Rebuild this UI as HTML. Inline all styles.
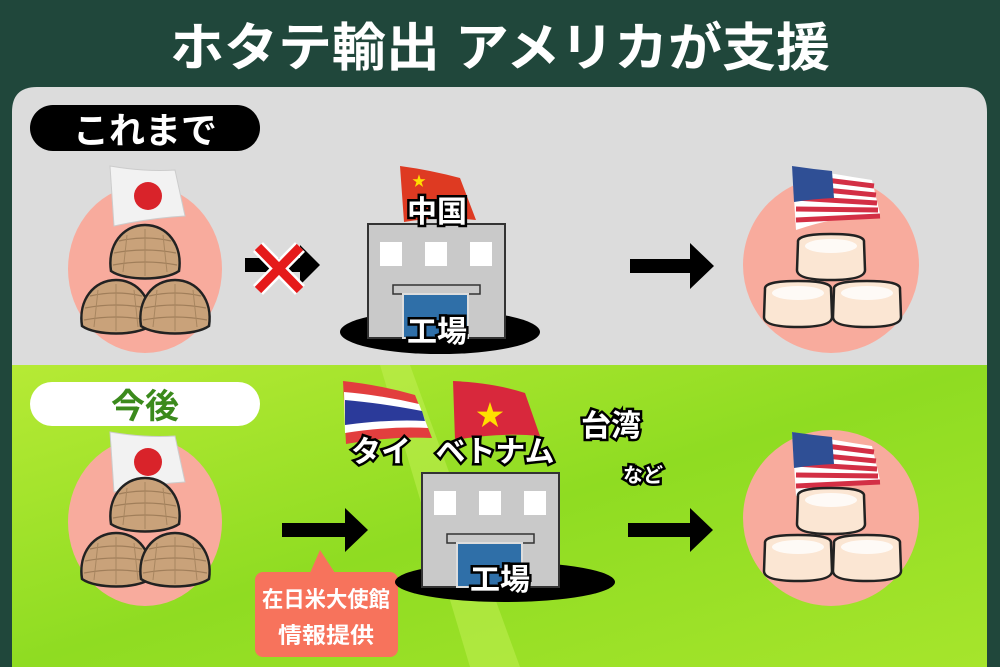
<!DOCTYPE html>
<html><head><meta charset="utf-8"><style>
html,body{margin:0;padding:0;background:#20473b;}
svg{display:block;font-family:"Liberation Sans","Noto Sans CJK JP",sans-serif;font-weight:bold;}
</style></head><body>
<svg width="1000" height="667" viewBox="0 0 1000 667" xmlns="http://www.w3.org/2000/svg">
<defs>
<linearGradient id="gr" x1="0" y1="0" x2="1" y2="1">
<stop offset="0" stop-color="#b6ea35"/><stop offset="0.5" stop-color="#8fdc22"/><stop offset="1" stop-color="#a6e52c"/></linearGradient>
<g id="clam">
<path d="M-34,18 C-38,-8 -22,-28 0,-28 C22,-28 38,-8 34,18 C20,28 -20,28 -34,18Z" fill="#c9a27a" stroke="#222" stroke-width="2.5"/>
<path d="M-26,-12 Q0,-18 26,-12 M-31,0 Q0,-6 31,0 M-32,12 Q0,6 32,12" stroke="#a07e5a" stroke-width="1.2" fill="none"/>
<path d="M-18,-18 L-22,19 M0,-24 L0,23 M18,-18 L22,19" stroke="#a88660" stroke-width="1" fill="none"/>
</g>
<g id="scal">
<path d="M-33,-14 Q-34,-22 0,-22 Q34,-22 33,-14 L34,14 Q34,24 0,24 Q-34,24 -34,14Z" fill="#fbe6d3" stroke="#222" stroke-width="2.5"/>
<ellipse cx="0" cy="-10" rx="26" ry="7" fill="#fff" opacity="0.8"/>
</g>
<g id="jp">
<path d="M0,0 Q35,6 65,4 L75,50 Q40,52 4,60Z" fill="#f2f2f2" stroke="#ccc"/>
<circle cx="38" cy="30" r="14" fill="#d9232a"/>
</g>
<g id="us">
<path d="M0,0 Q40,8 80,14 L88,48 Q45,50 4,64Z" fill="#fff"/>
<path d="M2,10 L82,20 M3,21 L84,29 M3,32 L85,37 M4,43 L86,44 M4,54 L88,50" stroke="#d32f45" stroke-width="5"/>
<path d="M0,0 Q20,3 40,5 L42,32 Q20,33 2,36Z" fill="#2f4f95"/>
</g>
<g id="bld">
<rect x="0" y="0" width="137" height="114" fill="#c9c9c9" stroke="#333" stroke-width="2"/>
<rect x="12" y="18" width="22" height="24" fill="#fff"/><rect x="57" y="18" width="22" height="24" fill="#fff"/><rect x="102" y="18" width="22" height="24" fill="#fff"/>
<rect x="25" y="61" width="87" height="9" fill="#c9c9c9" stroke="#333" stroke-width="1.5"/>
<rect x="35" y="70" width="65" height="44" fill="#2f6fa8" stroke="#ddd" stroke-width="2"/>
</g>
</defs>
<text x="500" y="66" font-size="52" fill="#fff" text-anchor="middle" textLength="660" lengthAdjust="spacingAndGlyphs">ホタテ輸出 アメリカが支援</text>
<path d="M12,112 Q12,87 37,87 L962,87 Q987,87 987,112 L987,667 L12,667Z" fill="#dcdcdc"/>
<rect x="12" y="365" width="975" height="302" fill="url(#gr)"/>
<path d="M380,365 L470,667 L520,667 L410,365Z" fill="#c4ef56" opacity="0.5"/>

<rect x="30" y="105" width="230" height="46" rx="23" fill="#000"/>
<text x="145" y="143" font-size="36" fill="#fff" text-anchor="middle">これまで</text>
<ellipse cx="145" cy="269" rx="77" ry="84" fill="#f8ab9d"/>
<use href="#jp" x="110" y="166"/>
<use href="#clam" x="145" y="253"/>
<use href="#clam" x="116" y="308"/>
<use href="#clam" x="175" y="308"/>
<path d="M245,258 L300,258 L300,245 L320,265 L300,285 L300,272 L245,272Z" fill="#000"/>
<path d="M258,247 L300,290 M300,247 L258,290" stroke="#fff" stroke-width="14"/>
<path d="M258,247 L300,290 M300,247 L258,290" stroke="#e51b1b" stroke-width="9"/>
<ellipse cx="440" cy="332" rx="100" ry="22" fill="#000"/>
<path d="M400,166 Q430,170 460,178 L476,220 Q440,216 404,222Z" fill="#de3a22"/>
<text x="412" y="186" font-size="14" fill="#ffde00">★</text>
<use href="#bld" x="368" y="224"/>
<text x="437" y="222" font-size="30" fill="#fff" stroke="#000" stroke-width="5" paint-order="stroke" text-anchor="middle">中国</text>
<text x="437" y="342" font-size="30" fill="#fff" stroke="#000" stroke-width="5" paint-order="stroke" text-anchor="middle">工場</text>
<path d="M630,259 L690,259 L690,243 L714,266 L690,289 L690,273 L630,273Z" fill="#000"/>
<circle cx="831" cy="265" r="88" fill="#f8ab9d"/>
<use href="#us" x="792" y="166"/>
<use href="#scal" x="831" y="256"/>
<use href="#scal" x="798" y="303"/>
<use href="#scal" x="867" y="303"/>

<rect x="30" y="382" width="230" height="44" rx="22" fill="#fff"/>
<text x="145" y="418" font-size="34" fill="#3b8a1c" text-anchor="middle">今後</text>
<ellipse cx="145" cy="522" rx="77" ry="84" fill="#f8ab9d"/>
<use href="#jp" x="110" y="432"/>
<use href="#clam" x="145" y="506"/>
<use href="#clam" x="116" y="561"/>
<use href="#clam" x="175" y="561"/>
<path d="M282,523 L345,523 L345,508 L368,530 L345,552 L345,537 L282,537Z" fill="#000"/>
<rect x="255" y="572" width="143" height="85" rx="8" fill="#f7735c"/>
<path d="M310,573 L320,550 L335,573Z" fill="#f7735c"/>
<text x="326" y="607" font-size="22" fill="#fff" text-anchor="middle" textLength="128" lengthAdjust="spacingAndGlyphs">在日米大使館</text>
<text x="326" y="643" font-size="22" fill="#fff" text-anchor="middle" textLength="96" lengthAdjust="spacingAndGlyphs">情報提供</text>
<ellipse cx="505" cy="582" rx="110" ry="20" fill="#000"/>
<use href="#bld" x="422" y="473"/>
<text x="500" y="590" font-size="30" fill="#fff" stroke="#000" stroke-width="5" paint-order="stroke" text-anchor="middle">工場</text>
<path d="M343,381 Q380,385 415,395 L432,438 Q390,436 346,444Z" fill="#e23e3e"/>
<path d="M344,392 Q380,395 419,404 L428,428 Q390,426 345,433Z" fill="#fff"/>
<path d="M345,400 Q380,403 422,411 L425,421 Q390,419 345,425Z" fill="#2b3a9a"/>
<path d="M453,381 Q495,383 525,393 L540,436 Q500,432 455,440Z" fill="#d8283c"/>
<text x="490" y="425" font-size="28" fill="#ffe000" text-anchor="middle">★</text>
<g font-size="30" fill="#fff" stroke="#000" stroke-width="5" paint-order="stroke" text-anchor="middle">
<text x="381" y="462">タイ</text>
<text x="495" y="462">ベトナム</text>
<text x="611" y="436">台湾</text>
<text x="643" y="482" font-size="20">など</text>
</g>
<path d="M628,523 L690,523 L690,508 L713,530 L690,552 L690,537 L628,537Z" fill="#000"/>
<circle cx="831" cy="518" r="88" fill="#f8ab9d"/>
<use href="#us" x="792" y="432"/>
<use href="#scal" x="831" y="510"/>
<use href="#scal" x="798" y="557"/>
<use href="#scal" x="867" y="557"/>
<rect x="987" y="87" width="13" height="580" fill="#20473b"/>
</svg>
</body></html>
